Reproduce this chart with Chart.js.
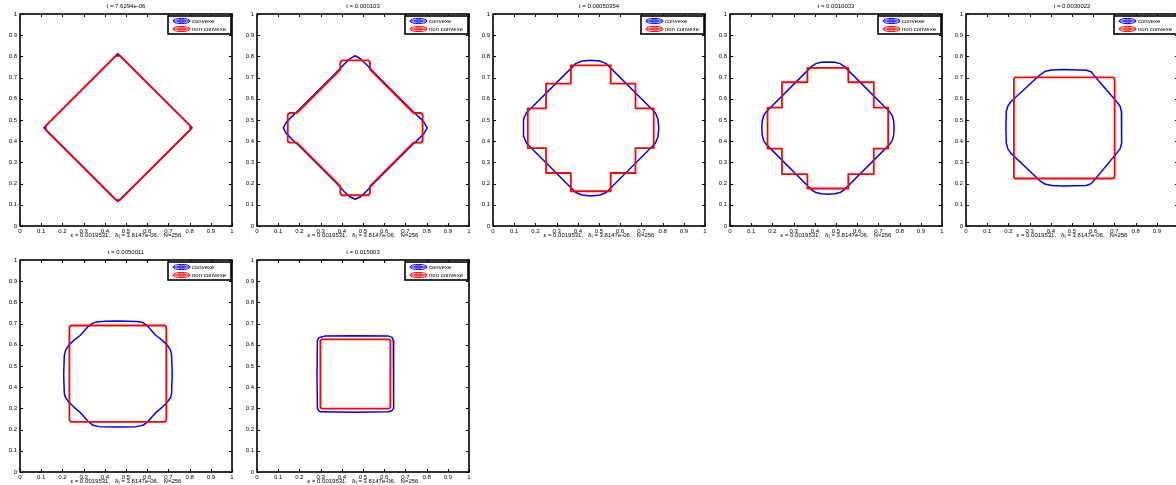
<!DOCTYPE html>
<html>
<head>
<meta charset="utf-8">
<script src="https://cdn.jsdelivr.net/npm/chart.js@4.4.1/dist/chart.umd.min.js"></script>
<style>
  html, body { margin: 0; padding: 0; background: #fff; width: 1176px; height: 485px; overflow: hidden; }
  canvas { position: absolute; }
</style>
</head>
<body>
<script>
// ---- data ----
const titles = [
  "t = 7.6294e-06", "t = 0.000103", "t = 0.00050354", "t = 0.0010033",
  "t = 0.0030022", "t = 0.0050011", "t = 0.015003"
];
const seriesNames = ["convexe", "non convexe"];
const tickValues = [0, 0.1, 0.2, 0.3, 0.4, 0.5, 0.6, 0.7, 0.8, 0.9, 1];
const tickLabels = ["0", "0.1", "0.2", "0.3", "0.4", "0.5", "0.6", "0.7", "0.8", "0.9", "1"];
const captionParts = ["\u03b5 = 0.0019531,   \u03b4", "t", " = 3.8147e-06,   N=256"];

// contour points [x, y]
const convexe1 = [[0.455,0.806],[0.462,0.812],[0.469,0.806],[0.806,0.469],[0.812,0.463],[0.806,0.457],
  [0.469,0.122],[0.462,0.116],[0.455,0.122],[0.119,0.457],[0.113,0.463],[0.119,0.469],[0.455,0.806]];
const nonConvexe1 = [[0.452,0.803],[0.472,0.803],[0.802,0.473],[0.802,0.453],[0.472,0.123],[0.452,0.123],
  [0.122,0.453],[0.122,0.473],[0.452,0.803]];

const convexe2 = [[0.383,0.733],[0.41,0.762],[0.437,0.788],[0.463,0.803],[0.489,0.788],[0.516,0.762],[0.543,0.733],
  [0.733,0.543],[0.762,0.516],[0.788,0.489],[0.803,0.463],[0.788,0.437],[0.762,0.41],[0.733,0.383],
  [0.543,0.193],[0.516,0.164],[0.489,0.138],[0.463,0.126],[0.437,0.138],[0.41,0.164],[0.383,0.193],
  [0.193,0.383],[0.164,0.41],[0.138,0.437],[0.124,0.463],[0.138,0.489],[0.164,0.516],[0.193,0.543],[0.383,0.733]];
const nonConvexe2 = [[0.393,0.738],[0.393,0.772],[0.40,0.781],[0.526,0.781],[0.533,0.772],[0.533,0.738],
  [0.738,0.533],[0.772,0.533],[0.781,0.526],[0.781,0.40],[0.772,0.393],[0.738,0.393],
  [0.533,0.188],[0.533,0.154],[0.526,0.145],[0.40,0.145],[0.393,0.154],[0.393,0.188],
  [0.188,0.393],[0.154,0.393],[0.145,0.40],[0.145,0.526],[0.154,0.533],[0.188,0.533],[0.393,0.738]];

const convexe3 = [[0.39,0.766],[0.42,0.778],[0.462,0.782],[0.504,0.778],[0.534,0.766],
  [0.766,0.534],[0.778,0.504],[0.782,0.462],[0.778,0.42],[0.766,0.39],
  [0.534,0.158],[0.504,0.146],[0.462,0.142],[0.42,0.146],[0.39,0.158],
  [0.158,0.39],[0.146,0.42],[0.142,0.462],[0.146,0.504],[0.158,0.534],[0.39,0.766]];
const nonConvexe3 = [[0.367,0.758],[0.555,0.758],[0.555,0.672],[0.672,0.672],[0.672,0.555],[0.758,0.555],
  [0.758,0.367],[0.672,0.367],[0.672,0.25],[0.555,0.25],[0.555,0.164],[0.367,0.164],[0.367,0.25],
  [0.25,0.25],[0.25,0.367],[0.164,0.367],[0.164,0.555],[0.25,0.555],[0.25,0.672],[0.367,0.672],[0.367,0.758]];

const convexe4 = [[0.385,0.753],[0.405,0.766],[0.43,0.772],[0.462,0.774],[0.494,0.772],[0.519,0.766],[0.539,0.753],
  [0.753,0.539],[0.766,0.519],[0.772,0.494],[0.774,0.462],[0.772,0.43],[0.766,0.405],[0.753,0.385],
  [0.539,0.171],[0.519,0.158],[0.494,0.152],[0.462,0.15],[0.43,0.152],[0.405,0.158],[0.385,0.171],
  [0.171,0.385],[0.158,0.405],[0.152,0.43],[0.15,0.462],[0.152,0.494],[0.158,0.519],[0.171,0.539],[0.385,0.753]];
const nonConvexe4 = [[0.365,0.746],[0.558,0.746],[0.558,0.678],[0.678,0.678],[0.678,0.558],[0.746,0.558],
  [0.746,0.365],[0.678,0.365],[0.678,0.245],[0.558,0.245],[0.558,0.177],[0.365,0.177],[0.365,0.245],
  [0.245,0.245],[0.245,0.365],[0.177,0.365],[0.177,0.558],[0.245,0.558],[0.245,0.678],[0.365,0.678],[0.365,0.746]];

const convexe5 = [[0.348,0.712],[0.375,0.73],[0.403,0.736],[0.46,0.738],[0.568,0.735],[0.59,0.728],[0.602,0.712],
  [0.712,0.585],[0.727,0.565],[0.733,0.54],[0.735,0.46],[0.733,0.39],[0.727,0.365],[0.712,0.345],
  [0.6,0.21],[0.585,0.197],[0.565,0.191],[0.46,0.189],[0.405,0.191],[0.375,0.197],[0.35,0.212],
  [0.21,0.345],[0.197,0.365],[0.19,0.39],[0.188,0.46],[0.19,0.54],[0.197,0.565],[0.21,0.585],[0.348,0.712]];
const nonConvexe5 = [[0.232,0.701],[0.695,0.701],[0.701,0.695],[0.701,0.23],[0.695,0.224],
  [0.232,0.224],[0.226,0.23],[0.226,0.695],[0.232,0.701]];

const convexe6 = [[0.34,0.70],[0.36,0.708],[0.40,0.711],[0.46,0.712],[0.55,0.71],[0.58,0.705],[0.6,0.69],
  [0.64,0.645],[0.67,0.622],[0.695,0.598],[0.71,0.575],[0.715,0.55],[0.718,0.46],[0.715,0.37],[0.71,0.35],
  [0.695,0.33],[0.67,0.305],[0.64,0.28],[0.6,0.235],[0.58,0.22],[0.55,0.214],[0.46,0.212],[0.375,0.214],
  [0.345,0.22],[0.325,0.235],[0.285,0.28],[0.255,0.305],[0.23,0.33],[0.215,0.35],[0.209,0.37],[0.206,0.46],
  [0.209,0.55],[0.215,0.575],[0.23,0.598],[0.255,0.622],[0.285,0.645],[0.32,0.685],[0.34,0.70]];
const nonConvexe6 = [[0.24,0.691],[0.683,0.691],[0.69,0.684],[0.69,0.243],[0.683,0.236],
  [0.24,0.236],[0.233,0.243],[0.233,0.684],[0.24,0.691]];

const convexe7 = [[0.30,0.636],[0.32,0.641],[0.46,0.643],[0.62,0.641],[0.637,0.635],[0.643,0.62],[0.646,0.46],
  [0.643,0.30],[0.637,0.29],[0.62,0.284],[0.46,0.282],[0.30,0.284],[0.29,0.29],[0.285,0.30],[0.283,0.46],
  [0.285,0.62],[0.29,0.632],[0.30,0.636]];
const nonConvexe7 = [[0.305,0.626],[0.622,0.626],[0.629,0.62],[0.629,0.305],[0.622,0.299],
  [0.305,0.299],[0.299,0.305],[0.299,0.62],[0.305,0.626]];

const convexeSets = [convexe1, convexe2, convexe3, convexe4, convexe5, convexe6, convexe7];
const nonConvexeSets = [nonConvexe1, nonConvexe2, nonConvexe3, nonConvexe4, nonConvexe5, nonConvexe6, nonConvexe7];

// ---- layout ----
const panelLeft = [0, 237, 473, 710, 946, 0, 237];
const panelTop = [0, 0, 0, 0, 0, 246, 246];
const FONT = "Liberation Sans, Arial, Helvetica, sans-serif";

const toXY = (pts) => pts.map(p => ({ x: p[0], y: p[1] }));

const matlabLook = {
  id: "matlabLook",
  afterDraw(chart, args, opts) {
    const ctx = chart.ctx;
    const a = chart.chartArea;
    const xs = chart.scales.x, ys = chart.scales.y;
    ctx.save();
    ctx.strokeStyle = "#000";
    ctx.fillStyle = "#000";

    // inward tick marks on all four sides
    ctx.lineWidth = 1;
    ctx.beginPath();
    xs.ticks.forEach(t => {
      const px = Math.round(xs.getPixelForValue(t.value)) + 0.5;
      ctx.moveTo(px, a.bottom); ctx.lineTo(px, a.bottom - 3);
      ctx.moveTo(px, a.top); ctx.lineTo(px, a.top + 3);
    });
    ys.ticks.forEach(t => {
      const py = Math.round(ys.getPixelForValue(t.value)) + 0.5;
      ctx.moveTo(a.left, py); ctx.lineTo(a.left + 3, py);
      ctx.moveTo(a.right, py); ctx.lineTo(a.right - 3, py);
    });
    ctx.stroke();

    // axes frame
    ctx.lineWidth = 1.6;
    ctx.strokeRect(a.left, a.top, a.right - a.left, a.bottom - a.top);

    // title
    ctx.font = "6px " + FONT;
    ctx.textAlign = "center";
    ctx.textBaseline = "middle";
    const cx = (a.left + a.right) / 2;
    ctx.fillText(opts.title, cx, a.top - 8);

    // caption under the x axis, with subscript t
    const w0 = ctx.measureText(captionParts[0]).width;
    ctx.font = "4.5px " + FONT;
    const w1 = ctx.measureText(captionParts[1]).width;
    ctx.font = "6px " + FONT;
    const w2 = ctx.measureText(captionParts[2]).width;
    let x = cx - (w0 + w1 + w2) / 2;
    const y = a.bottom + 9.5;
    ctx.textAlign = "left";
    ctx.fillText(captionParts[0], x, y);
    x += w0;
    ctx.font = "4.5px " + FONT;
    ctx.fillText(captionParts[1], x, y + 1.5);
    x += w1;
    ctx.font = "6px " + FONT;
    ctx.fillText(captionParts[2], x, y);

    // legend box in the upper right corner
    const lw = 63, lh = 18;
    const lx = a.right - lw - 1, ly = a.top + 2;
    ctx.fillStyle = "#fff";
    ctx.fillRect(lx, ly, lw, lh);
    ctx.lineWidth = 1.6;
    ctx.strokeRect(lx, ly, lw, lh);
    chart.data.datasets.forEach((ds, k) => {
      const iy = ly + 5 + k * 8;
      const ix = lx + 13.5;
      ctx.strokeStyle = ds.borderColor;
      ctx.lineWidth = 1;
      ctx.beginPath();
      ctx.ellipse(ix, iy, 8.5, 2.6, 0, 0, Math.PI * 2);
      ctx.stroke();
      ctx.beginPath();
      ctx.ellipse(ix, iy, 4, 1.2, 0, 0, Math.PI * 2);
      ctx.stroke();
      ctx.beginPath();
      ctx.moveTo(ix - 8.5, iy); ctx.lineTo(ix + 8.5, iy);
      ctx.stroke();
      ctx.fillStyle = "#000";
      ctx.font = "6px " + FONT;
      ctx.textAlign = "left";
      ctx.textBaseline = "middle";
      ctx.fillText(ds.label, lx + 24, iy);
    });
    ctx.restore();
  }
};

function axisOptions(isX) {
  return {
    type: "linear",
    min: 0,
    max: 1,
    afterBuildTicks: (s) => { s.ticks = tickValues.map(v => ({ value: v })); },
    afterFit: (s) => { if (isX) s.height = 20; else s.width = 20; },
    grid: { display: false, drawTicks: false },
    border: { display: false },
    ticks: {
      autoSkip: false,
      maxRotation: 0,
      padding: isX ? 1.5 : 3,
      color: "#000",
      font: { family: FONT, size: 6 },
      callback: (v, i) => tickLabels[i]
    }
  };
}

titles.forEach((title, i) => {
  const canvas = document.createElement("canvas");
  canvas.width = 236;
  canvas.height = 246;
  canvas.style.left = panelLeft[i] + "px";
  canvas.style.top = panelTop[i] + "px";
  document.body.appendChild(canvas);

  new Chart(canvas, {
    type: "scatter",
    data: {
      datasets: [
        { label: seriesNames[0], data: toXY(convexeSets[i]), borderColor: "#0000ff", borderWidth: 1.5,
          showLine: true, pointRadius: 0, order: 1 },
        { label: seriesNames[1], data: toXY(nonConvexeSets[i]), borderColor: "#ff0000", borderWidth: 1.8,
          showLine: true, pointRadius: 0, order: 0 }
      ]
    },
    options: {
      responsive: false,
      animation: false,
      devicePixelRatio: 1,
      layout: { padding: { left: 0, top: 14, right: 4, bottom: 0 } },
      elements: { line: { tension: 0, borderJoinStyle: "round", borderCapStyle: "round" } },
      plugins: {
        legend: { display: false },
        tooltip: { enabled: false },
        matlabLook: { title: title }
      },
      scales: { x: axisOptions(true), y: axisOptions(false) }
    },
    plugins: [matlabLook]
  });
});
</script>
</body>
</html>
